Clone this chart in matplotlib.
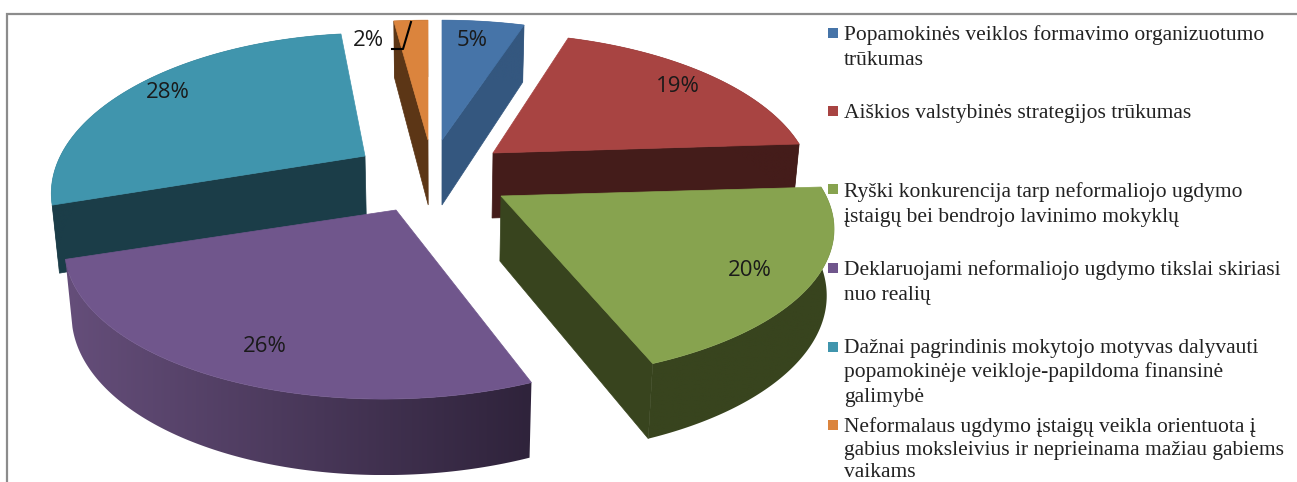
import numpy as np
import matplotlib
matplotlib.use('Agg')
import matplotlib.pyplot as plt
from matplotlib.colors import to_rgb
from matplotlib.patches import Polygon, Rectangle

# Slice shares in percent, clockwise from the top
values = [5, 19, 20, 26, 28, 2]
legend_lines = [
    ['Popamokinės veiklos formavimo organizuotumo', 'trūkumas'],
    ['Aiškios valstybinės strategijos trūkumas'],
    ['Ryški konkurencija tarp neformaliojo ugdymo', 'įstaigų bei bendrojo lavinimo mokyklų'],
    ['Deklaruojami neformaliojo ugdymo tikslai skiriasi', 'nuo realių'],
    ['Dažnai pagrindinis mokytojo motyvas dalyvauti', 'popamokinėje veikloje-papildoma finansinė', 'galimybė'],
    ['Neformalaus ugdymo įstaigų veikla orientuota į', 'gabius moksleivius ir neprieinama mažiau gabiems', 'vaikams'],
]

# Styles and layout, all in image pixels
top_colors = ['#4674A8', '#A84442', '#87A34F', '#70568C', '#4095AD', '#DB843D']
cut_colors = ['#34577F', '#441C1A', '#38441E', '#2F233B', '#1B3D48', '#5C3616']
wall_colors = [('#34577F', '#34577F'), ('#441C1A', '#441C1A'), ('#38441E', '#38441E'),
               ('#654E7A', '#2F233B'), ('#1B3D48', '#1B3D48'), ('#5C3616', '#5C3616')]
apex = [(442, 140), (493, 153), (501, 196), (396, 210), (365, 156), (428, 140)]
scale_x = [0.965, 0.943, 0.985, 0.975, 0.923, 1.0]
scale_y = [1.0, 1.0, 1.0, 1.03, 1.025, 1.0]
shear = [0, 0.043, 0.018, -0.068, -0.062, 0]
pct_pos = [(472, 40), (678, 87), (750, 271), (265, 346), (168, 93), (368, 40)]
draw_order = [5, 0, 1, 4, 3, 2]
legend_baselines = [[40, 65], [118], [197, 222], [275, 300], [353, 377, 402], [432, 455, 477]]
legend_box_top = [28, 106, 184, 263, 342, 420]
A, B, K, DEPTH, K_DEPTH = 330, 145, 0.21, 65, 0.145
LEAN, MID_X = 0.018, 440

fig = plt.figure(figsize=(12.97, 4.82), dpi=100)
ax = fig.add_axes([0, 0, 1, 1])
ax.axis('off')


def rim(i, theta):
    # outer rim point of slice i in perspective
    s = 1 + K * np.cos(theta)
    dy = -B * scale_y[i] * np.cos(theta) / s
    x = apex[i][0] + A * scale_x[i] * np.sin(theta) / s + shear[i] * dy
    return x, apex[i][1] + dy


def drop(x, y, theta):
    # same point on the bottom of the slab, verticals lean to the middle
    h = DEPTH / (1 + K_DEPTH * np.cos(theta))
    return x - (x - MID_X) * LEAN * h / DEPTH, y + h


edges = np.radians(np.cumsum([0] + values) * 3.6)

for z, i in enumerate(draw_order):
    t0, t1 = edges[i], edges[i + 1]
    ts = np.linspace(t0, t1, 120)
    x, y = rim(i, ts)
    ax0, ay0 = apex[i]
    ax0_low, ay0_low = ax0 - (ax0 - MID_X) * LEAN, ay0 + DEPTH

    # the cut face that turns towards the viewer
    for t, show in ((t1, t1 < np.pi), (t0, t0 > np.pi)):
        if show:
            ex, ey = rim(i, t)
            lx, ly = drop(ex, ey, t)
            ax.add_patch(Polygon([(ax0, ay0), (ex, ey), (lx, ly), (ax0_low, ay0_low)],
                                 fc=cut_colors[i], ec=cut_colors[i], lw=0.5, zorder=z + 2))

    # outer wall, gradient from left to right
    xl, yl = drop(x, y, ts)
    wall = Polygon(np.vstack([np.column_stack([x, y]), np.column_stack([xl, yl])[::-1]]), fc='none', ec='none',
                   transform=ax.transData)
    ax.add_patch(wall)
    left, right = np.array(to_rgb(wall_colors[i][0])), np.array(to_rgb(wall_colors[i][1]))
    grad = np.linspace(left, right, 128)[np.newaxis, :, :]
    img = ax.imshow(grad, extent=[min(x.min(), xl.min()), max(x.max(), xl.max()), max(yl.max(), y.max()),
                                  min(yl.min(), y.min())], aspect='auto', interpolation='bilinear', zorder=z + 2)
    img.set_clip_path(wall)

    # top face
    ax.add_patch(Polygon(np.vstack([[ax0, ay0], np.column_stack([x, y])]), fc=top_colors[i], ec=top_colors[i],
                         lw=0.5, zorder=z + 2))

for v, (px, py) in zip(values, pct_pos):
    ax.text(px, py, f'{v}%', ha='center', va='center', family='Open Sans', fontsize=16, color='#1a1a1a', zorder=20)

# leader line of the 2% label
ax.plot([392, 403, 411], [49, 49, 22], color='black', lw=1.5, zorder=20)

# legend
for lines, bases, top, col in zip(legend_lines, legend_baselines, legend_box_top, top_colors):
    ax.add_patch(Rectangle((828, top), 10, 10, fc=col, ec='none', zorder=21))
    for line, base in zip(lines, bases):
        ax.text(844, base, line, ha='left', va='baseline', family='Liberation Serif', fontsize=15.5,
                color='#222222', zorder=21)

# frame of the cropped chart
ax.plot([7, 7, 1297], [482, 13.5, 13.5], color='#8C8C8C', lw=1.6, solid_joinstyle='miter', zorder=1)

ax.set_xlim(0, 1297)
ax.set_ylim(482, 0)
fig.savefig('out.png', dpi=100)
